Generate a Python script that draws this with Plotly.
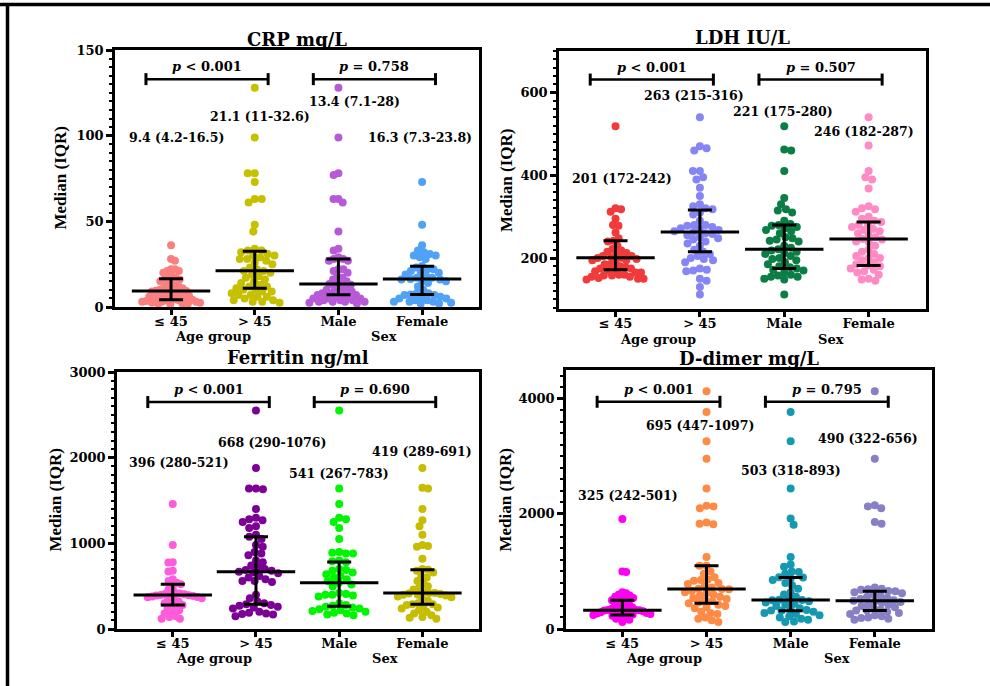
import numpy as np
import plotly.graph_objects as go

W, H = 990, 686
SERIF = "DejaVu Serif"
TIMES = "Liberation Serif"

categories = ["≤ 45", "> 45", "Male", "Female"]
cat_pos = [1, 2, 3, 4]
group_titles = ["Age group", "Sex"]

# ---------------- CRP mg/L ----------------
crp_le45 = [36, 28, 27, 22, 22, 21, 21, 20, 18, 17, 17, 16, 16, 15, 14, 13, 12, 11, 11, 10,
            10, 9.5, 9.4, 9, 8, 8, 7, 7, 6, 6, 5.5, 5, 5, 4.5, 4.2, 4, 4, 3.5, 3, 3,
            3, 2.5, 2.5, 2, 2, 2, 1.5, 6.5, 8.5, 12.5]
crp_gt45 = [128, 99, 78, 78, 73, 63, 63, 61, 48, 44, 34, 33, 33, 32, 31, 30, 30, 29, 28, 28,
            27, 26, 25, 23, 22, 21, 21, 20, 19, 18, 17, 16, 15, 14, 13, 12, 12, 11, 10, 9,
            8, 7, 7, 6, 5, 4, 3, 3, 2.5, 4, 6, 9, 10]
crp_male = [128, 99, 78, 77, 63, 63, 61, 44, 34, 33, 29, 28, 28, 27, 27, 22, 22, 21, 20, 18,
            17, 16, 15, 14, 13.4, 13, 12, 11, 10, 10, 9, 9, 8, 8, 7, 7, 7, 6, 6, 5,
            5, 5, 4, 4, 4, 3, 3, 3, 3, 2.5, 2]
crp_female = [73, 48, 36, 33, 32, 31, 30, 30, 29, 28, 24, 23, 22, 22, 21, 20, 20, 19, 18, 17,
              17, 16.3, 16, 16, 15, 15, 14, 12, 10, 8, 8, 7.3, 7, 7, 6, 6, 5, 5, 4, 4,
              3, 3, 3, 2.5, 2, 2]
crp_median = [9.4, 21.1, 13.4, 16.3]
crp_q1 = [4.2, 11, 7.1, 7.3]
crp_q3 = [16.5, 32.6, 28, 23.8]
crp_p = ["<i>p</i> < 0.001", "<i>p</i> = 0.758"]

# ---------------- LDH IU/L ----------------
ldh_le45 = [518, 320, 318, 312, 295, 280, 278, 262, 248, 242, 240, 230, 222, 218, 215, 212, 210,
            205, 202, 201, 200, 198, 195, 190, 185, 180, 178, 175, 172, 170, 168, 165, 160, 158,
            158, 155, 152, 150, 150, 148, 155, 160, 165, 175, 185, 195, 205]
ldh_gt45 = [540, 470, 465, 460, 410, 410, 395, 390, 370, 350, 330, 325, 320, 318, 310, 305, 290,
            280, 280, 278, 275, 272, 270, 268, 265, 263, 260, 258, 255, 250, 248, 245, 240, 235,
            230, 220, 215, 210, 205, 200, 198, 195, 190, 175, 172, 170, 168, 150, 145, 130, 112]
ldh_male = [518, 462, 460, 410, 345, 330, 318, 315, 310, 290, 282, 280, 278, 275, 272, 268, 265,
            260, 250, 248, 245, 242, 240, 230, 225, 221, 218, 215, 212, 210, 205, 200, 198, 195,
            190, 185, 180, 178, 175, 172, 170, 165, 160, 158, 155, 155, 150, 148, 112]
ldh_female = [540, 472, 410, 395, 390, 368, 325, 320, 318, 312, 300, 295, 290, 287, 282, 280, 275,
              270, 268, 265, 260, 255, 250, 246, 245, 240, 238, 230, 220, 215, 210, 205, 200, 200,
              195, 190, 185, 182, 180, 175, 172, 168, 165, 160, 150, 148, 145]
ldh_median = [201, 263, 221, 246]
ldh_q1 = [172, 215, 175, 182]
ldh_q3 = [242, 316, 280, 287]
ldh_p = ["<i>p</i> < 0.001", "<i>p</i> = 0.507"]

# ---------------- Ferritin ng/ml ----------------
fer_le45 = [1460, 980, 780, 775, 680, 670, 580, 560, 540, 521, 480, 460, 420, 410, 400, 396, 395,
            390, 385, 380, 370, 360, 340, 320, 300, 290, 280, 260, 240, 220, 200, 180, 150, 140,
            120, 120, 405, 415, 375, 350]
fer_gt45 = [2550, 1880, 1640, 1640, 1630, 1400, 1300, 1280, 1270, 1250, 1200, 1180, 1100, 1076,
            1050, 980, 960, 900, 880, 860, 800, 780, 740, 720, 700, 690, 680, 668, 660, 650, 620,
            600, 580, 560, 560, 550, 400, 360, 320, 300, 290, 280, 270, 260, 250, 240, 200, 190,
            180, 175, 170, 150]
fer_male = [2550, 1640, 1460, 1300, 1280, 1250, 1180, 1050, 900, 890, 880, 880, 800, 790, 780,
            700, 690, 680, 660, 640, 620, 600, 580, 560, 541, 520, 500, 420, 410, 400, 400, 390,
            380, 300, 280, 270, 260, 250, 240, 230, 220, 210, 200, 190, 180, 170, 160]
fer_female = [1880, 1650, 1640, 1400, 1270, 1200, 1100, 980, 970, 960, 820, 700, 691, 680, 660,
              620, 600, 560, 540, 500, 480, 460, 430, 420, 419, 415, 410, 400, 400, 390, 380, 370,
              350, 330, 300, 290, 289, 280, 270, 250, 240, 220, 200, 180, 160, 140, 130, 120]
fer_median = [396, 668, 541, 419]
fer_q1 = [280, 290, 267, 289]
fer_q3 = [521, 1076, 783, 691]
fer_p = ["<i>p</i> < 0.001", "<i>p</i> = 0.690"]

# ---------------- D-dimer mg/L ----------------
dd_le45 = [1910, 1000, 990, 640, 620, 600, 580, 560, 540, 520, 501, 480, 460, 440, 420, 400, 380,
           360, 340, 330, 325, 320, 310, 300, 290, 280, 270, 260, 250, 242, 230, 220, 200, 180,
           160, 120, 350, 300, 280, 330]
dd_gt45 = [4130, 3770, 3260, 2960, 2440, 2140, 2130, 2100, 1850, 1830, 1820, 1250, 1097, 1100,
           1000, 960, 900, 860, 850, 840, 800, 780, 750, 720, 700, 695, 690, 660, 640, 620, 600,
           580, 560, 540, 520, 500, 480, 460, 447, 420, 400, 380, 360, 300, 280, 260, 200, 180,
           150, 120]
dd_male = [3770, 3260, 2440, 1920, 1810, 1250, 1120, 1080, 1000, 990, 960, 900, 893, 880, 850,
           800, 760, 700, 640, 600, 560, 520, 510, 503, 500, 480, 460, 440, 420, 400, 360, 340,
           330, 320, 318, 300, 280, 260, 240, 220, 200, 180, 160, 130, 120]
dd_female = [4130, 2960, 2150, 2130, 2100, 1860, 1830, 720, 700, 690, 680, 660, 656, 640, 620,
             600, 580, 560, 540, 520, 500, 490, 480, 470, 460, 440, 420, 400, 380, 360, 340, 322,
             320, 300, 280, 260, 240, 220, 200, 190, 180, 160]
dd_median = [325, 695, 503, 490]
dd_q1 = [242, 447, 318, 322]
dd_q3 = [501, 1097, 893, 656]
dd_p = ["<i>p</i> < 0.001", "<i>p</i> = 0.795"]

panels = [
    dict(title="CRP mg/L", groups=[crp_le45, crp_gt45, crp_male, crp_female],
         med=crp_median, q1=crp_q1, q3=crp_q3, p=crp_p,
         colors=["#FA8080", "#C6C000", "#B85AD8", "#4FA2F5"],
         box=(115, 50, 479, 307), yrange=(0, 150), dtick=50, minor=5,
         label_x=[1.06, 2.06, 3.19, 3.97], label_y=[98.7, 111, 120, 98.7],
         bracket_y=133, title_y=40, ylab_x=60, grp_y=336),
    dict(title="LDH IU/L", groups=[ldh_le45, ldh_gt45, ldh_male, ldh_female],
         med=ldh_median, q1=ldh_q1, q3=ldh_q3, p=ldh_p,
         colors=["#F23A3A", "#8585F5", "#0B7E45", "#FF8AC4"],
         box=(559, 51, 926, 309), yrange=(77, 700), dtick=200, minor=20,
         label_x=[1.08, 1.93, 2.98, 3.94], label_y=[393, 593, 554, 506],
         bracket_y=631, title_y=37, ylab_x=507, grp_y=339),
    dict(title="Ferritin ng/ml", groups=[fer_le45, fer_gt45, fer_male, fer_female],
         med=fer_median, q1=fer_q1, q3=fer_q3, p=fer_p,
         colors=["#FF5CDB", "#7D0096", "#00F500", "#C6BD00"],
         box=(117, 372, 479, 629), yrange=(0, 3000), dtick=1000, minor=100,
         label_x=[1.08, 2.19, 3.0, 4.0], label_y=[1949, 2182, 1820, 2077],
         bracket_y=2649, title_y=357, ylab_x=55, grp_y=658),
    dict(title="D-dimer mg/L", groups=[dd_le45, dd_gt45, dd_male, dd_female],
         med=dd_median, q1=dd_q1, q3=dd_q3, p=dd_p,
         colors=["#FF00F0", "#FF8A45", "#1599B3", "#8780C4"],
         box=(566, 370, 932, 629), yrange=(0, 4500), dtick=2000, minor=200,
         label_x=[1.07, 1.92, 3.0, 3.92], label_y=[2320, 3532, 2753, 3307],
         bracket_y=3948, title_y=358, ylab_x=505, grp_y=658),
]

XR = (0.33, 4.68)
DOT = 7.0
MAX_HALF = 29.0  # px half-width of a swarm column


def swarm(values, px_per_unit, diam):
    vals = np.asarray(values, dtype=float)
    ys = vals * px_per_unit
    order = np.argsort(-vals, kind="stable")
    px, py = [], []
    offs = np.zeros(len(vals))
    flip = 1
    for i in order:
        y = ys[i]
        cands = [0.0]
        for a, b in zip(px, py):
            dy = y - b
            if abs(dy) < diam:
                dx = np.sqrt(diam ** 2 - dy ** 2)
                cands += [a + dx, a - dx]
        cands.sort(key=lambda c: (round(abs(c), 3), -flip * c))
        chosen = 0.0
        for c in cands:
            if all((c - a) ** 2 + (y - b) ** 2 >= diam ** 2 - 1e-6 for a, b in zip(px, py)):
                chosen = c
                break
        flip = -flip
        offs[i] = chosen
        px.append(chosen)
        py.append(y)
    m = np.max(np.abs(offs)) if len(offs) else 0
    if m > MAX_HALF:
        offs = offs * MAX_HALF / m
    return offs


def fmt(v):
    return f"{v:g}"


fig = go.Figure()
shapes = []
annotations = []
font_b = dict(family=SERIF, size=13, color="black", weight="bold")

for k, P in enumerate(panels):
    L, T, R, B = P["box"]
    xa = "x" if k == 0 else f"x{k+1}"
    ya = "y" if k == 0 else f"y{k+1}"
    xkey = "xaxis" if k == 0 else f"xaxis{k+1}"
    ykey = "yaxis" if k == 0 else f"yaxis{k+1}"
    wpx, hpx = R - L, B - T
    px_x = wpx / (XR[1] - XR[0])
    px_y = hpx / (P["yrange"][1] - P["yrange"][0])

    for g, vals in enumerate(P["groups"]):
        offs = swarm(vals, px_y, DOT) / px_x
        fig.add_trace(go.Scatter(
            x=cat_pos[g] + offs, y=vals, mode="markers", xaxis=xa, yaxis=ya,
            marker=dict(size=8, color=P["colors"][g], line=dict(width=0)),
            showlegend=False, hoverinfo="y"))
    fig.add_trace(go.Scatter(
        x=cat_pos, y=P["med"], mode="markers", xaxis=xa, yaxis=ya,
        marker=dict(symbol="line-ew", size=56, line=dict(width=3, color="black")),
        error_y=dict(type="data", symmetric=False,
                     array=[q3 - m for q3, m in zip(P["q3"], P["med"])],
                     arrayminus=[m - q1 for q1, m in zip(P["q1"], P["med"])],
                     width=12, thickness=3, color="black"),
        showlegend=False, hoverinfo="skip"))

    fig.layout[xkey] = dict(
        domain=[L / W, R / W], range=list(XR), anchor=ya, automargin=False,
        tickvals=cat_pos, ticktext=categories, tickfont=font_b,
        ticks="outside", ticklen=5, tickwidth=2.5, tickcolor="black",
        showline=True, linewidth=2.5, linecolor="black", mirror=True,
        showgrid=False, zeroline=False, ticklabelstandoff=-4)
    fig.layout[ykey] = dict(
        domain=[1 - B / H, 1 - T / H], range=list(P["yrange"]), anchor=xa, automargin=False,
        dtick=P["dtick"], tick0=0, tickfont=font_b,
        ticks="outside", ticklen=6, tickwidth=2.5, tickcolor="black",
        minor=dict(dtick=P["minor"], ticks="outside", ticklen=3, tickwidth=1.5, tickcolor="black"),
        showline=True, linewidth=2.5, linecolor="black", mirror=True,
        showgrid=False, zeroline=False)

    annotations.append(dict(text=P["title"], xref="paper", yref="paper",
                            x=(L + R) / 2 / W, y=1 - P["title_y"] / H,
                            xanchor="center", yanchor="middle", showarrow=False,
                            font=dict(family=SERIF, size=18, color="black", weight="bold")))
    annotations.append(dict(text="Median (IQR)", xref="paper", yref="paper",
                            x=P["ylab_x"] / W, y=1 - (T + B) / 2 / H, textangle=-90,
                            xanchor="center", yanchor="middle", showarrow=False,
                            font=dict(family=TIMES, size=17, color="black", weight="bold")))
    for gi, gx in enumerate([1.5, 3.55]):
        annotations.append(dict(text=group_titles[gi], xref=xa, yref="paper",
                                x=gx, y=1 - P["grp_y"] / H, xanchor="center", yanchor="middle",
                                showarrow=False, font=font_b))
    for g in range(4):
        txt = f"{fmt(P['med'][g])} ({fmt(P['q1'][g])}-{fmt(P['q3'][g])})"
        annotations.append(dict(text=txt, xref=xa, yref=ya, x=P["label_x"][g], y=P["label_y"][g],
                                xanchor="center", yanchor="middle", showarrow=False,
                                font=dict(family=SERIF, size=12.5, color="black", weight="bold")))
    for bi, (c1, c2) in enumerate([(1, 2), (3, 4)]):
        x0, x1 = c1 - 0.3, c2 + 0.16
        by = P["bracket_y"]
        shapes.append(dict(type="line", xref=xa, yref=ya, x0=x0, x1=x1, y0=by, y1=by,
                           line=dict(color="black", width=2.5)))
        for xe in (x0, x1):
            shapes.append(dict(type="line", xref=xa, yref=ya, x0=xe, x1=xe,
                               ysizemode="pixel", yanchor=by, y0=-6, y1=6,
                               line=dict(color="black", width=3)))
        annotations.append(dict(text=P["p"][bi], xref=xa, yref=ya, x=(x0 + x1) / 2, y=by,
                                xanchor="center", yanchor="bottom", yshift=3, showarrow=False,
                                font=dict(family=SERIF, size=13, color="black", weight="bold")))

shapes.append(dict(type="line", xref="paper", yref="paper", x0=0, x1=1,
                   y0=1 - 4.5 / H, y1=1 - 4.5 / H, line=dict(color="black", width=3.5)))
shapes.append(dict(type="line", xref="paper", yref="paper", x0=7.5 / W, x1=7.5 / W,
                   y0=0, y1=1 - 3 / H, line=dict(color="black", width=3.5)))

fig.update_layout(width=W, height=H,
                  margin=dict(l=0, r=0, t=0, b=0, pad=0, autoexpand=False),
                  paper_bgcolor="white", plot_bgcolor="white",
                  shapes=shapes, annotations=annotations, showlegend=False)

fig.write_html(
    "out.html",
    config={"displayModeBar": False},
    post_script=(
        "document.body.style.margin='0';document.body.style.padding='0';"
        "document.documentElement.style.overflow='hidden';"
        "var gd=document.getElementById('{plot_id}');"
        "gd.style.position='fixed';gd.style.top='0px';gd.style.left='0px';"
    ),
)
